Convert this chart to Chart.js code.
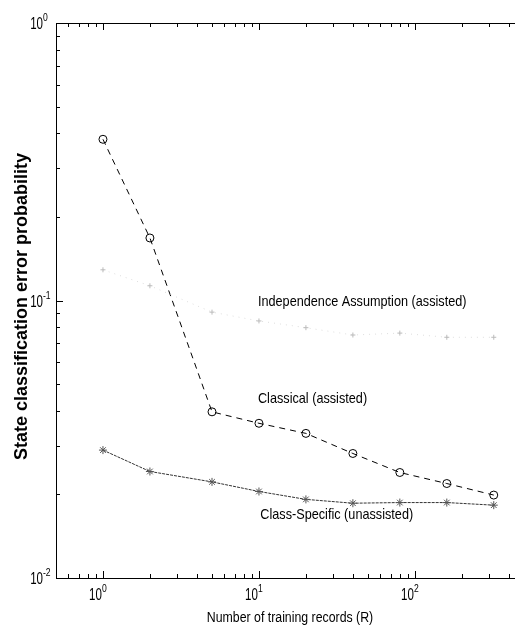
<!DOCTYPE html>
<html><head><meta charset="utf-8">
<script src="https://cdn.jsdelivr.net/npm/chart.js@4.4.1/dist/chart.umd.min.js"></script>
<style>
html,body{margin:0;padding:0;background:#fff;overflow:hidden;width:515px;height:630px}
#wrap{position:absolute;left:0;top:0;width:540px;height:630px}
</style></head>
<body><div id="wrap"><canvas id="c" width="540" height="630"></canvas></div>
<script>
// ---- data ----
const records = [1, 2, 5, 10, 20, 40, 80, 160, 320];
const classical = [0.381, 0.168, 0.0397, 0.0361, 0.0332, 0.0281, 0.0240, 0.0219, 0.0199];
const classSpecific = [0.0289, 0.0242, 0.0222, 0.0205, 0.0192, 0.0186, 0.0187, 0.0187, 0.0183];
const independence = [0.129, 0.113, 0.0908, 0.0844, 0.0798, 0.0751, 0.0763, 0.0737, 0.0737];
const xTickValues = [1, 10, 100];
const xTickExponents = ['0', '1', '2'];
const yTickValues = [0.01, 0.1, 1];
const yTickExponents = ['-2', '-1', '0'];
const seriesNames = ['Independence Assumption (assisted)', 'Classical (assisted)', 'Class-Specific (unassisted)'];
const nameAnchorX = [9.85, 9.85, 10.2];
const nameAnchorY = [0.0955, 0.0427, 0.0163];
const xTitle = 'Number of training records (R)';
const yTitle = 'State classification error probability';

const pts = arr => records.map((r, i) => ({x: r, y: arr[i]}));
const SANS = '"Liberation Sans", Arial, Helvetica, sans-serif';

function txt(ctx, s, x, y, font, align, sx) {
  ctx.save();
  ctx.font = font;
  ctx.textAlign = align;
  ctx.textBaseline = 'alphabetic';
  ctx.translate(x, y);
  ctx.scale(sx, 1);
  ctx.fillText(s, 0, 0);
  ctx.restore();
}

const axesPlugin = {
  id: 'matlabAxes',
  afterDraw(chart) {
    const ctx = chart.ctx, a = chart.chartArea;
    const xs = chart.scales.x, ys = chart.scales.y;
    ctx.save();
    ctx.strokeStyle = '#000';
    ctx.lineWidth = 1;
    ctx.setLineDash([]);
    ctx.beginPath();
    ctx.rect(Math.round(a.left) + 0.5, Math.round(a.top) + 0.5, Math.round(a.right - a.left), Math.round(a.bottom - a.top));
    ctx.stroke();
    ctx.beginPath();
    for (let d = -1; d <= 2; d++) {
      for (let m = 1; m <= 9; m++) {
        const v = m * Math.pow(10, d);
        if (v < xs.min || v > xs.max) continue;
        const px = Math.round(xs.getPixelForValue(v)) + 0.5;
        const len = m === 1 ? 7 : 4;
        ctx.moveTo(px, a.bottom); ctx.lineTo(px, a.bottom - len);
        ctx.moveTo(px, a.top); ctx.lineTo(px, a.top + len);
      }
    }
    for (let d = -2; d <= 0; d++) {
      for (let m = 1; m <= 9; m++) {
        const v = m * Math.pow(10, d);
        if (v < ys.min - 1e-9 || v > ys.max + 1e-9) continue;
        const py = Math.round(ys.getPixelForValue(v)) + 0.5;
        const len = m === 1 ? 7 : 4;
        ctx.moveTo(a.left, py); ctx.lineTo(a.left + len, py);
        ctx.moveTo(a.right, py); ctx.lineTo(a.right - len, py);
      }
    }
    ctx.stroke();

    ctx.fillStyle = '#000';
    xTickValues.forEach((v, i) => {
      const px = xs.getPixelForValue(v);
      txt(ctx, '10', px - 1, a.bottom + 22, '17px ' + SANS, 'right', 0.68);
      txt(ctx, xTickExponents[i], px - 1, a.bottom + 14, '11px ' + SANS, 'left', 0.78);
    });
    yTickValues.forEach((v, i) => {
      const py = ys.getPixelForValue(v);
      txt(ctx, '10', a.left - 13, py + 6, '17px ' + SANS, 'right', 0.68);
      txt(ctx, yTickExponents[i], a.left - 13, py - 2, '11px ' + SANS, 'left', 0.78);
    });
    txt(ctx, xTitle, (a.left + a.right) / 2, 622, '15.5px ' + SANS, 'center', 0.795);
    ctx.save();
    ctx.translate(27, (a.top + a.bottom) / 2 + 6);
    ctx.rotate(-Math.PI / 2);
    txt(ctx, yTitle, 0, 0, 'bold 18px ' + SANS, 'center', 1);
    ctx.restore();
    seriesNames.forEach((s, i) => {
      txt(ctx, s, xs.getPixelForValue(nameAnchorX[i]), ys.getPixelForValue(nameAnchorY[i]), '15px ' + SANS, 'left', 0.845);
    });
    ctx.restore();
  }
};

new Chart(document.getElementById('c'), {
  type: 'line',
  data: {
    datasets: [
      {
        label: seriesNames[0], data: pts(independence),
        borderColor: '#dddddd', borderWidth: 1, borderDash: [1, 5],
        pointStyle: 'cross', pointRadius: 2.5, pointBorderColor: '#bbbbbb', pointBorderWidth: 1,
        pointBackgroundColor: 'rgba(0,0,0,0)', tension: 0
      },
      {
        label: seriesNames[1], data: pts(classical),
        borderColor: '#000', borderWidth: 1, borderDash: [6, 5],
        pointStyle: 'circle', pointRadius: 4, pointBorderColor: '#000', pointBorderWidth: 1,
        pointBackgroundColor: 'rgba(0,0,0,0)', tension: 0
      },
      {
        label: seriesNames[2], data: pts(classSpecific),
        borderColor: '#333', borderWidth: 1, borderDash: [3, 1],
        pointStyle: 'star', pointRadius: 4, pointBorderColor: '#555', pointBorderWidth: 1,
        pointBackgroundColor: 'rgba(0,0,0,0)', tension: 0
      }
    ]
  },
  options: {
    responsive: false, animation: false, devicePixelRatio: 1,
    layout: {padding: {left: 56, top: 23, right: 16, bottom: 52}},
    plugins: {legend: {display: false}, tooltip: {enabled: false}},
    scales: {
      x: {type: 'logarithmic', min: 0.5, max: 500, display: false},
      y: {type: 'logarithmic', min: 0.01, max: 1, display: false}
    }
  },
  plugins: [axesPlugin]
});
</script>
</body></html>
